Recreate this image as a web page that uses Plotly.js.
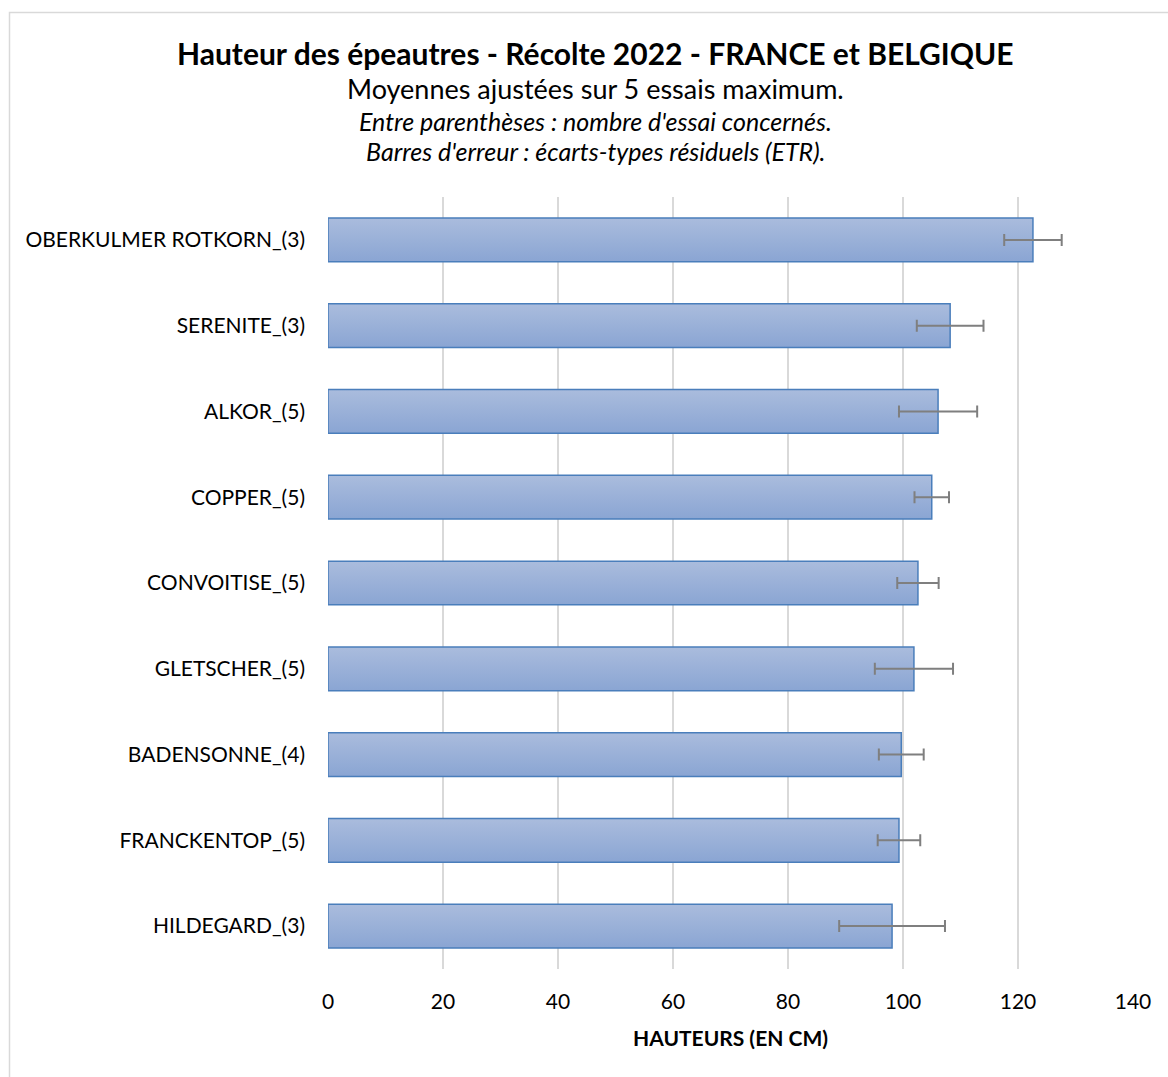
<!DOCTYPE html>
<html>
<head>
<meta charset="utf-8">
<script src="https://cdn.plot.ly/plotly-3.0.1.min.js"></script>
<style>
html,body{margin:0;padding:0;background:#fff;}
#chart{width:1168px;height:1077px;}
</style>
</head>
<body>
<div id="chart"></div>
<script>
// Data (top to bottom as displayed)
const varieties = ["OBERKULMER ROTKORN_(3)","SERENITE_(3)","ALKOR_(5)","COPPER_(5)","CONVOITISE_(5)","GLETSCHER_(5)","BADENSONNE_(4)","FRANCKENTOP_(5)","HILDEGARD_(3)"];
const heights = [122.6, 108.2, 106.1, 105.0, 102.6, 101.9, 99.7, 99.3, 98.1];
const errors = [5.0, 5.8, 6.8, 3.0, 3.6, 6.8, 3.9, 3.7, 9.2];
const xTicks = [0, 20, 40, 60, 80, 100, 120, 140];

const titleText = "Hauteur des épeautres - Récolte 2022 - FRANCE et BELGIQUE";
const subtitle1 = "Moyennes ajustées sur 5 essais maximum.";
const subtitle2 = "Entre parenthèses : nombre d'essai concernés.";
const subtitle3 = "Barres d'erreur : écarts-types résiduels (ETR).";
const xTitle = "HAUTEURS (EN CM)";

const FONT = "Lato, 'Open Sans', sans-serif";

const trace = {
  type: "bar",
  orientation: "h",
  y: varieties,
  x: heights,
  width: 0.51,
  marker: {color: "#9cb1d9", line: {color: "#4a7ebb", width: 1.5}},
  error_x: {type: "data", array: errors, visible: true, color: "#7f7f7f", thickness: 2, width: 6},
  hoverinfo: "x+y"
};

// plot area in px: x 328..1133, y 197..969
const L = 328, R = 1168 - 1133, T = 197, B = 1077 - 969;
const pw = 1168 - L - R, ph = 1077 - T - B;
const px = v => (v - L) / pw;
const py = v => (1077 - B - v) / ph;

const layout = {
  width: 1168, height: 1077,
  margin: {l: L, r: R, t: T, b: B, pad: 0},
  paper_bgcolor: "#ffffff",
  plot_bgcolor: "#ffffff",
  showlegend: false,
  font: {family: FONT, color: "#000000", size: 16},
  xaxis: {
    range: [0, 140],
    tickvals: xTicks,
    ticktext: xTicks.map(String),
    showgrid: true, gridcolor: "#d9d9d9", gridwidth: 1.5,
    zeroline: false, showline: false, ticks: "",
    tickfont: {family: FONT, size: 21, color: "#000"},
    ticklabelstandoff: 18,
    title: {text: "<b>" + xTitle + "</b>", font: {family: FONT, size: 21, color: "#000"}, standoff: 19},
    fixedrange: true
  },
  yaxis: {
    autorange: "reversed",
    categoryorder: "array", categoryarray: varieties,
    showgrid: false, zeroline: false, showline: false, ticks: "",
    tickfont: {family: FONT, size: 21, color: "#000"},
    ticklabelstandoff: 22,
    fixedrange: true
  },
  annotations: [
    {text: "<b>" + titleText + "</b>", x: px(595), y: py(53), xref: "paper", yref: "paper", showarrow: false, xanchor: "center", yanchor: "middle", font: {family: FONT, size: 30, color: "#000"}},
    {text: subtitle1, x: px(595), y: py(89), xref: "paper", yref: "paper", showarrow: false, xanchor: "center", yanchor: "middle", font: {family: FONT, size: 27, color: "#000"}},
    {text: "<i>" + subtitle2 + "</i>", x: px(595), y: py(121), xref: "paper", yref: "paper", showarrow: false, xanchor: "center", yanchor: "middle", font: {family: FONT, size: 25, color: "#000"}},
    {text: "<i>" + subtitle3 + "</i>", x: px(595), y: py(151), xref: "paper", yref: "paper", showarrow: false, xanchor: "center", yanchor: "middle", font: {family: FONT, size: 25, color: "#000"}}
  ],
  shapes: [
    {type: "rect", xref: "paper", yref: "paper", x0: px(9.5), x1: px(1190), y0: py(12.5), y1: py(1100), line: {color: "#d9d9d9", width: 1.5}, fillcolor: "rgba(0,0,0,0)", layer: "below"}
  ]
};

Plotly.newPlot("chart", [trace], layout, {displayModeBar: false, staticPlot: true}).then(gd => {
  // apply vertical gradient to bars
  const svg = gd.querySelector("svg.main-svg");
  const ns = "http://www.w3.org/2000/svg";
  let defs = svg.querySelector("defs");
  if (!defs) { defs = document.createElementNS(ns, "defs"); svg.insertBefore(defs, svg.firstChild); }
  const g = document.createElementNS(ns, "linearGradient");
  g.setAttribute("id", "barGrad");
  g.setAttribute("x1", "0"); g.setAttribute("y1", "0"); g.setAttribute("x2", "0"); g.setAttribute("y2", "1");
  [["0", "#aabcdd"], ["1", "#8aa5d3"]].forEach(([o, c]) => {
    const s = document.createElementNS(ns, "stop");
    s.setAttribute("offset", o); s.setAttribute("stop-color", c);
    g.appendChild(s);
  });
  defs.appendChild(g);
  gd.querySelectorAll(".barlayer .point path").forEach(p => { p.style.fill = "url(#barGrad)"; });
});
</script>
</body>
</html>
